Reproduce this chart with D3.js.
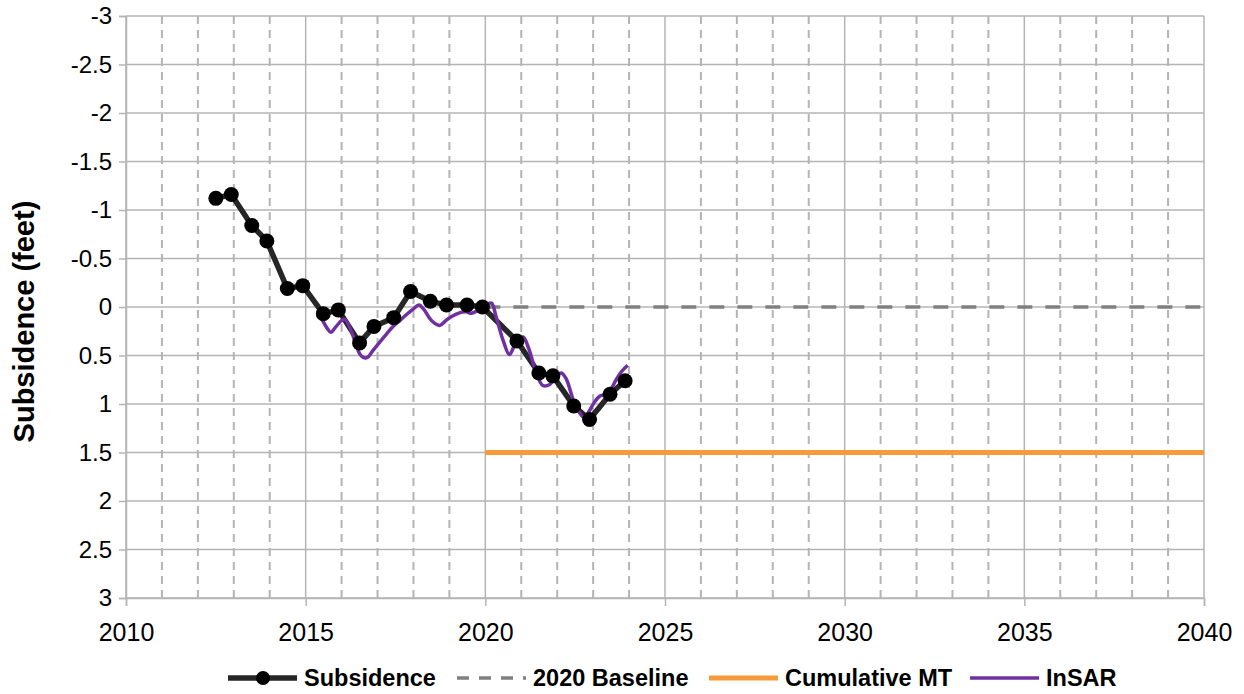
<!DOCTYPE html>
<html>
<head>
<meta charset="utf-8">
<script src="https://cdn.jsdelivr.net/npm/d3@7"></script>
<style>
  html, body { margin: 0; padding: 0; background: #fff; }
  svg { display: block; font-family: "Liberation Sans", Arial, sans-serif; }
</style>
</head>
<body>
<svg id="chart" width="1244" height="694"></svg>
<script>
// ---------- DATA ----------
const yTicks = [-3, -2.5, -2, -1.5, -1, -0.5, 0, 0.5, 1, 1.5, 2, 2.5, 3];
const xTicks = [2010, 2015, 2020, 2025, 2030, 2035, 2040];
const minorYears = d3.range(2011, 2040);

const subsidenceYears = [2012.5, 2012.93, 2013.5, 2013.92, 2014.49, 2014.92, 2015.49, 2015.91,
  2016.5, 2016.9, 2017.45, 2017.92, 2018.47, 2018.92, 2019.49, 2019.92,
  2020.88, 2021.49, 2021.88, 2022.46, 2022.9, 2023.47, 2023.89];
const subsidenceValues = [-1.12, -1.16, -0.84, -0.68, -0.19, -0.22, 0.07, 0.03,
  0.37, 0.2, 0.11, -0.16, -0.06, -0.02, -0.02, 0.0,
  0.35, 0.68, 0.71, 1.02, 1.16, 0.9, 0.76];

const baselineYears = [2020, 2040];
const baselineValues = [0, 0];

const mtYears = [2020, 2040];
const mtValues = [1.5, 1.5];

const insarYears = [2015.46, 2015.6, 2015.7, 2015.85, 2016.0, 2016.1, 2016.3, 2016.5, 2016.6, 2016.72,
  2016.85, 2017.0, 2017.2, 2017.43, 2017.62, 2017.8, 2018.0, 2018.15, 2018.3, 2018.5,
  2018.73, 2018.9, 2019.05, 2019.28, 2019.47, 2019.61, 2019.84, 2020.0, 2020.17, 2020.3,
  2020.5, 2020.67, 2020.85, 2021.05, 2021.2, 2021.4, 2021.6, 2021.79, 2021.95, 2022.11,
  2022.25, 2022.48, 2022.71, 2022.8, 2023.04, 2023.18, 2023.41, 2023.64, 2023.78, 2023.96];
const insarValues = [0.13, 0.22, 0.26, 0.2, 0.14, 0.13, 0.28, 0.48, 0.52, 0.52,
  0.46, 0.39, 0.3, 0.2, 0.14, 0.08, 0.02, -0.02, 0.03, 0.14,
  0.19, 0.14, 0.1, 0.06, 0.05, 0.065, 0.02, -0.02, -0.04, 0.1,
  0.35, 0.49, 0.37, 0.31, 0.42, 0.66, 0.81, 0.8, 0.72, 0.68,
  0.74, 0.99, 1.13, 1.12, 0.98, 0.92, 0.89, 0.75, 0.67, 0.6];

const legendLabels = ["Subsidence", "2020 Baseline", "Cumulative MT", "InSAR"];

// ---------- CHART ----------
const svg = d3.select("#chart");
const x = d3.scaleLinear().domain([2010, 2040]).range([126, 1204]);
const y = d3.scaleLinear().domain([-3, 3]).range([16, 598]);

const gridColor = "#b4b4b4";

// dashed minor vertical grid
svg.append("g").selectAll("line")
  .data(minorYears.filter(d => d % 5 !== 0))
  .join("line")
  .attr("x1", d => x(d)).attr("x2", d => x(d))
  .attr("y1", y(-3)).attr("y2", y(3))
  .attr("stroke", gridColor).attr("stroke-width", 2)
  .attr("stroke-dasharray", "8,6");

// horizontal grid
svg.append("g").selectAll("line")
  .data(yTicks)
  .join("line")
  .attr("x1", x(2010)).attr("x2", x(2040))
  .attr("y1", d => y(d)).attr("y2", d => y(d))
  .attr("stroke", gridColor).attr("stroke-width", 1.5);

// major vertical grid
svg.append("g").selectAll("line")
  .data(xTicks)
  .join("line")
  .attr("x1", d => x(d)).attr("x2", d => x(d))
  .attr("y1", y(-3)).attr("y2", y(3))
  .attr("stroke", gridColor).attr("stroke-width", 1.5);

// Axes
const xAxis = d3.axisBottom(x).tickValues(xTicks).tickFormat(d3.format("d")).tickSize(8).tickPadding(17);
const gx = svg.append("g").attr("transform", `translate(0,${y(3)})`).call(xAxis);
gx.select(".domain").attr("stroke", gridColor).attr("stroke-width", 1.5);
gx.selectAll(".tick line").attr("stroke", gridColor).attr("stroke-width", 1.5);
gx.selectAll("text").attr("font-size", 25).attr("fill", "#000")
  .attr("font-family", "Liberation Sans, Arial, sans-serif");

const yAxis = d3.axisLeft(y).tickValues(yTicks).tickFormat(d => String(d)).tickSize(7).tickPadding(7);
const gy = svg.append("g").attr("transform", `translate(${x(2010)},0)`).call(yAxis);
gy.select(".domain").attr("stroke", gridColor).attr("stroke-width", 1.5);
gy.selectAll(".tick line").attr("stroke", gridColor).attr("stroke-width", 1.5);
gy.selectAll("text").attr("font-size", 24).attr("fill", "#000")
  .attr("font-family", "Liberation Sans, Arial, sans-serif");

// Axis title
svg.append("text")
  .attr("transform", `translate(34,${y(0.15)}) rotate(-90)`)
  .attr("text-anchor", "middle")
  .attr("font-size", 29).attr("font-weight", "bold")
  .text("Subsidence (feet)");

// Series
const line = d3.line().x(d => x(d[0])).y(d => y(d[1]));

// Cumulative MT
svg.append("path")
  .datum(d3.zip(mtYears, mtValues))
  .attr("d", line)
  .attr("fill", "none").attr("stroke", "#F79A3A").attr("stroke-width", 5);

// 2020 Baseline
svg.append("path")
  .datum(d3.zip(baselineYears, baselineValues))
  .attr("d", line)
  .attr("fill", "none").attr("stroke", "#808080").attr("stroke-width", 3.5)
  .attr("stroke-dasharray", "15,13");

// Subsidence
const subData = d3.zip(subsidenceYears, subsidenceValues);
svg.append("path")
  .datum(subData)
  .attr("d", line)
  .attr("fill", "none").attr("stroke", "#262626").attr("stroke-width", 5.5)
  .attr("stroke-linejoin", "round");

// InSAR
const smooth = d3.line().x(d => x(d[0])).y(d => y(d[1])).curve(d3.curveCatmullRom.alpha(0.5));
svg.append("path")
  .datum(d3.zip(insarYears, insarValues))
  .attr("d", smooth)
  .attr("fill", "none").attr("stroke", "#7030A0").attr("stroke-width", 3.5)
  .attr("stroke-linejoin", "round");

svg.append("g").selectAll("circle")
  .data(subData)
  .join("circle")
  .attr("cx", d => x(d[0])).attr("cy", d => y(d[1]))
  .attr("r", 7.5).attr("fill", "#000");

// Legend
const legendY = 678;
const legendItems = [
  { label: legendLabels[0], x0: 228, color: "#262626", dash: null, w: 5.5, marker: true },
  { label: legendLabels[1], x0: 457, color: "#808080", dash: "12,10", w: 3.5, marker: false },
  { label: legendLabels[2], x0: 709, color: "#F79A3A", dash: null, w: 5, marker: false },
  { label: legendLabels[3], x0: 970, color: "#7030A0", dash: null, w: 3.5, marker: false }
];
const lg = svg.append("g");
legendItems.forEach(it => {
  const l = lg.append("line")
    .attr("x1", it.x0).attr("x2", it.x0 + 69)
    .attr("y1", legendY).attr("y2", legendY)
    .attr("stroke", it.color).attr("stroke-width", it.w);
  if (it.dash) l.attr("stroke-dasharray", it.dash);
  if (it.marker) lg.append("circle").attr("cx", it.x0 + 35).attr("cy", legendY).attr("r", 7).attr("fill", "#000");
  lg.append("text")
    .attr("x", it.x0 + 76).attr("y", legendY + 8)
    .attr("font-size", 23.5).attr("font-weight", "bold")
    .text(it.label);
});
</script>
</body>
</html>
